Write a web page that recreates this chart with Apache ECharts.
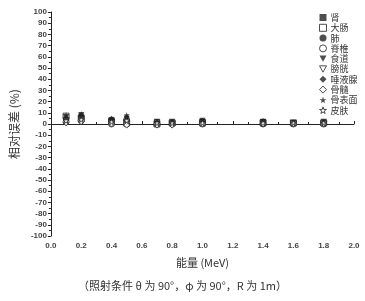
<!DOCTYPE html>
<html><head><meta charset="utf-8">
<script src="https://cdn.jsdelivr.net/npm/echarts@6/dist/echarts.min.js"></script>
<style>html,body{margin:0;padding:0;background:#fff}#c{width:365px;height:301px}</style>
</head><body><div id="c"></div>
<script>
const energies = [0.1, 0.2, 0.4, 0.5, 0.7, 0.8, 1.0, 1.4, 1.6, 1.8];
const organs = ['肾', '大肠', '肺', '脊椎', '食道', '膀胱', '唾液腺', '骨髓', '骨表面', '皮肤'];
const kidney   = [5, 6, 3, 2, 1, 1, 2, 1, 1, 1];
const colon    = [7, 5, 2, 1, 0, 1, 1, 1, 1, 1];
const lung     = [4, 7, 4, 3, 1, 1, 2, 2, 1, 1];
const spine    = [2, 3, 0, 0, 0, 0, 0, 0, 0, 0];
const esoph    = [6, 8, 3, 5, 2, 2, 3, 2, 1, 2];
const bladder  = [3, 4, 1, 2, 1, 0, 1, 1, 0, 0];
const salivary = [5, 6, 4, 6, 2, 1, 2, 2, 1, 1];
const marrow   = [1, 2, 0, -1, -1, -1, 0, 0, 0, 0];
const boneSurf = [8, 9, 5, 8, 2, 2, 3, 3, 1, 1];
const skin     = [3, 4, 2, 3, 1, 1, 1, 1, 1, 1];
const seriesValues = [kidney, colon, lung, spine, esoph, bladder, salivary, marrow, boneSurf, skin];

const star = 'path://M50,0 L61,35 L98,35 L68,57 L79,91 L50,70 L21,91 L32,57 L2,35 L39,35 Z';
const downTri = 'path://M0,0 L100,0 L50,90 Z';
const ink = '#222';
const styles = [
  {symbol: 'rect', fill: true},
  {symbol: 'rect', fill: false},
  {symbol: 'circle', fill: true},
  {symbol: 'circle', fill: false},
  {symbol: downTri, fill: true},
  {symbol: downTri, fill: false},
  {symbol: 'diamond', fill: true},
  {symbol: 'diamond', fill: false},
  {symbol: star, fill: true},
  {symbol: star, fill: false}
];

const series = organs.map((name, i) => ({
  name: name,
  type: 'scatter',
  data: energies.map((e, j) => [e, seriesValues[i][j]]),
  symbol: styles[i].symbol,
  symbolSize: 6,
  itemStyle: styles[i].fill ? {color: ink, borderColor: ink, borderWidth: 0}
                            : {color: '#fff', borderColor: ink, borderWidth: 1},
  emphasis: {disabled: true}
}));

const chart = echarts.init(document.getElementById('c'), null, {renderer: 'canvas'});
chart.setOption({
  animation: false,
  backgroundColor: '#fff',
  textStyle: {fontFamily: 'Liberation Sans, Arial, sans-serif'},
  grid: {left: 49, right: 11, top: 12, bottom: 65, containLabel: false},
  legend: {
    orient: 'vertical', left: 314, top: 8,
    itemWidth: 7, itemHeight: 7, itemGap: 1.3,
    textStyle: {fontSize: 9, lineHeight: 9, color: '#333', fontFamily: 'Noto Sans CJK SC', padding: [0, 0, 0, -1]},
    data: organs.map((n, i) => ({name: n, icon: styles[i].symbol, itemStyle: series[i].itemStyle}))
  },
  xAxis: {
    type: 'value', min: 0, max: 2, interval: 0.2,
    name: '能量 (MeV)', nameLocation: 'middle', nameGap: 21,
    nameTextStyle: {fontSize: 11, color: '#333', fontFamily: 'Noto Sans CJK SC'},
    axisLine: {show: true, lineStyle: {color: '#222', width: 1}},
    axisTick: {show: true, inside: true, length: 3, lineStyle: {color: '#222'}},
    minorTick: {show: true, splitNumber: 2, length: 2, lineStyle: {color: '#222'}},
    axisLabel: {fontSize: 8, fontWeight: 'bold', color: '#444', margin: 6, formatter: v => v.toFixed(1)},
    splitLine: {show: false}
  },
  yAxis: {
    type: 'value', min: -100, max: 100, interval: 10,
    name: '相对误差 (%)', nameLocation: 'middle', nameGap: 28, nameRotate: 90,
    nameTextStyle: {fontSize: 12, color: '#333', fontFamily: 'Noto Sans CJK SC'},
    axisLine: {show: true, lineStyle: {color: '#222', width: 1}},
    axisTick: {show: true, inside: false, length: 3, lineStyle: {color: '#222'}},
    minorTick: {show: true, splitNumber: 2, length: 2, lineStyle: {color: '#222'}},
    axisLabel: {fontSize: 8, fontWeight: 'bold', color: '#444', margin: 4},
    splitLine: {show: false}
  },
  graphic: [{
    type: 'text', left: 'center', top: 280,
    style: {text: '（照射条件 θ 为 90°，φ 为 90°，R 为 1m）', fontSize: 11, fill: '#333', fontFamily: 'Noto Sans CJK SC'}
  }],
  series: series
});
</script></body></html>
